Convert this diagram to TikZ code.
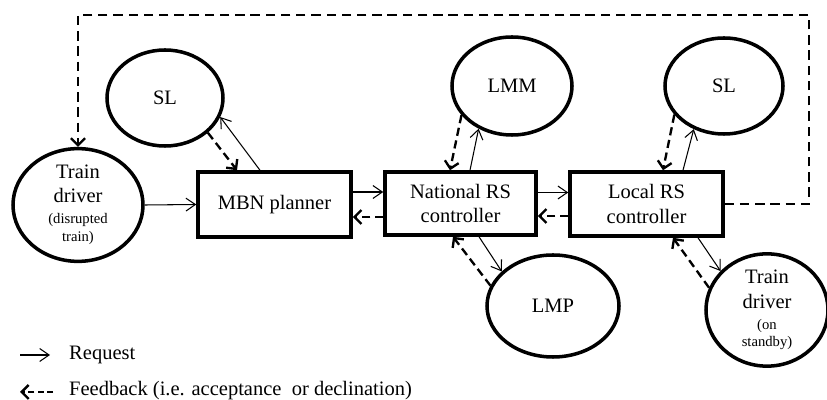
\documentclass[tikz,border=0pt]{standalone}
\usepackage{fontspec}
\setmainfont{Liberation Serif}
\usetikzlibrary{shapes.geometric,arrows.meta,calc}

\newcommand{\bigtxt}{\fontsize{17.5}{20}\selectfont}
\newcommand{\legtxt}{\fontsize{17.5}{20}\selectfont}
\newcommand{\smtxt}{\fontsize{12.5}{14}\selectfont}

\begin{document}
\begin{tikzpicture}[x=0.03cm,y=-0.03cm,
  oval/.style={ellipse, draw, line width=3pt, inner sep=0pt, align=center, font=\bigtxt},
  block/.style={rectangle, draw, line width=3pt, inner sep=0pt, align=center, font=\bigtxt},
  req/.style={line width=0.9pt, -{Straight Barb[length=8pt,width=11pt,line width=0.9pt]}},
  fb/.style={line width=2pt, dash pattern=on 7pt off 4pt, -{Straight Barb[length=6pt,width=12pt,line width=2pt]}}]
\useasboundingbox (0,0) rectangle (827,400);

% actors and planners
\node[oval, minimum width=3.9cm, minimum height=3.06cm] (td1) at (78,205)
  {Train\\driver\\[-1.4pt]{\smtxt (disrupted}\\[-4.8pt]{\smtxt train)}};
\node[oval, minimum width=3.48cm, minimum height=2.88cm] (sl1) at (165,98) {SL};
\node[oval, minimum width=3.6cm, minimum height=2.94cm] (lmm) at (512,86) {LMM};
\node[oval, minimum width=3.54cm, minimum height=2.88cm] (sl2) at (724,86) {SL};
\node[oval, minimum width=3.96cm, minimum height=3.06cm] (lmp) at (553,306) {LMP};
\node[oval, minimum width=3.66cm, minimum height=2.88cm] (td2) at (767,310)
  {Train\\[1pt]driver\\[-2pt]{\smtxt (on}\\[-5.5pt]{\smtxt standby)}};

\node[block, minimum width=4.59cm, minimum height=1.95cm] (mbn) at (274.5,204.5) {MBN planner};
\node[block, minimum width=4.53cm, minimum height=1.89cm] (nat) at (460.5,203.5) {National RS\\[1pt]controller};
\node[block, minimum width=4.59cm, minimum height=1.92cm] (loc) at (646.5,204) {Local RS\\[1pt]controller};

% main chain
\draw[req] (td1.east) -- (mbn.west);
\coordinate (a1) at ($(mbn.east)+(0,-12.5)$);
\coordinate (a2) at ($(mbn.east)+(0,12.5)$);
\draw[req] (a1) -- (a1 -| nat.west);
\draw[fb] (a2 -| nat.west) -- (a2);
\coordinate (b1) at ($(nat.east)+(0,-11)$);
\coordinate (b2) at ($(nat.east)+(0,12.5)$);
\draw[req] (b1) -- (b1 -| loc.west);
\draw[fb] (b2 -| loc.west) -- (b2);

% SL next to the MBN planner
\draw[fb] (sl1.-39) -- ($(mbn.north)+(-37.5,0)$);
\draw[req] ($(mbn.north)+(-14.5,0)$) -- (sl1.-19);

% LMM
\draw[fb] (lmm.-150) -- ($(nat.north)+(-10.5,0)$);
\draw[req] ($(nat.north)+(9.5,0)$) -- (lmm.-128);

% SL next to the local controller
\draw[fb] (sl2.-150) -- ($(loc.north)+(16.5,0)$);
\draw[req] ($(loc.north)+(36.5,0)$) -- (sl2.-125);

% LMP
\draw[req] ($(nat.south)+(18.5,0)$) -- (lmp.146);
\draw[fb] (lmp.162) -- ($(nat.south)+(-7.5,0)$);

% standby driver
\draw[req] ($(loc.south)+(51.5,0)$) -- (td2.140);
\draw[fb] (td2.159) -- ($(loc.south)+(26.5,0)$);

% feedback loop back to the disrupted driver
\coordinate (c1) at (809,15);
\draw[fb, dash pattern=on 8pt off 5pt] (loc.east) -| (c1) -| (td1.north);

% legend
\coordinate (l1) at (20,355);
\coordinate (l2) at (50,355);
\coordinate (l3) at (53,392);
\coordinate (l4) at (20,392);
\draw[req] (l1) -- (l2);
\draw[fb, dash pattern=on 5pt off 3pt] (l3) -- (l4);
\node[anchor=west, font=\legtxt, inner sep=0pt] (lt1) at (69,355) {Request};
\node[anchor=west, font=\legtxt, inner sep=0pt] (lt2) at (69,391) {Feedback (i.e. acceptance\ \ or declination)};
\end{tikzpicture}
\end{document}
